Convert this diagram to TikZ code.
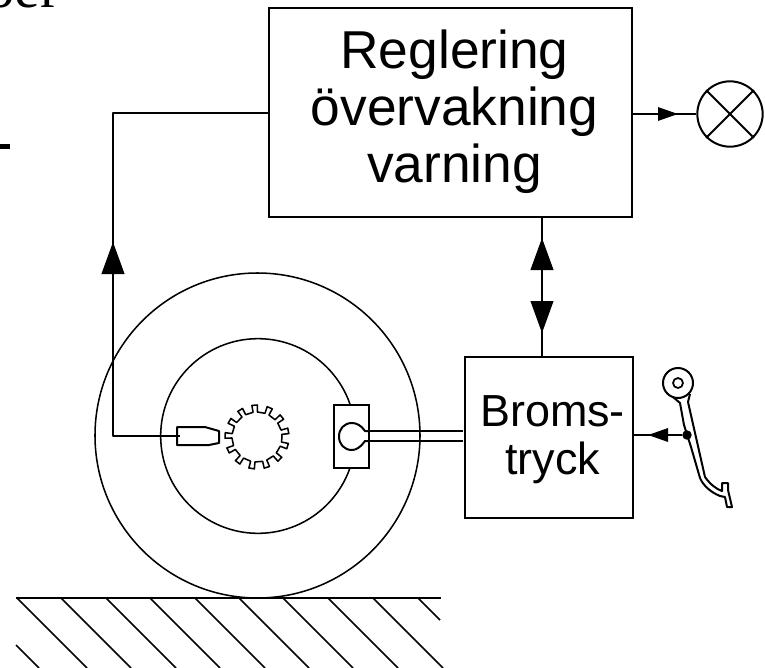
\documentclass[tikz,border=0pt]{standalone}
\usepackage{fontspec}
\setmainfont{Liberation Sans}
\newfontfamily\serifpart{Liberation Serif}
\usetikzlibrary{positioning, arrows.meta}
\tikzset{
	linje/.style={line width=1.5pt, line join=round},
	tunn/.style={line width=1.15pt, line join=round},
	pil/.style={-{Triangle[length=24pt, width=17pt]}, line width=1.5pt},
	litenpil/.style={-{Triangle[length=15pt, width=10pt]}, line width=1.5pt},
	ruta/.style={draw, line width=1.5pt, inner sep=0pt},
	etikett/.style={align=center, inner sep=0pt},
}
\begin{document}
\begin{tikzpicture}[x=0.75pt, y=-0.75pt]
	\useasboundingbox (0, 0) rectangle (765, 668);
	\clip (0, 0) rectangle (765, 668);

	% Rests of the page text
	\node[anchor=base west, inner sep=0pt, font=\serifpart\fontsize{43}{43}\selectfont] (rest) at (-14, 7) {ber};
	\fill (0, 144) rectangle (10, 149);

	% Boxes
	\node[ruta, minimum width=272pt, minimum height=157pt] (reglering) at (450.5, 112.5) {};
	\node[etikett, font=\fontsize{40}{42.75}\selectfont] (regltext) at (454.5, 112) {Reglering\\övervakning\\varning};
	\node[ruta, minimum width=126pt, minimum height=121pt] (broms) at (549, 437.5) {};
	\node[etikett, font=\fontsize{33.7}{36}\selectfont] (bromstext) at (552.5, 440) {Broms-\\tryck};

	% Lamp
	\node[draw, circle, line width=1.5pt, minimum size=49pt, inner sep=0pt] (lampa) at (730, 114) {};
	\draw[linje] (lampa.north west) -- (lampa.south east);
	\draw[linje] (lampa.north east) -- (lampa.south west);
	\coordinate (lampstart) at (reglering.east |- lampa.west);
	\coordinate (lampspets) at (678, 114);
	\draw[linje] (lampstart) -- (lampa.west);
	\draw[litenpil] (lampstart) -- (lampspets);

	% Wheel
	\node[draw, circle, tunn, minimum size=243.75pt, inner sep=0pt] (hjul) at (257.5, 435.5) {};
	\node[draw, circle, tunn, minimum size=146pt, inner sep=0pt] (nav) at (258, 436) {};

	% Ground
	\coordinate (markv) at (16, 598);
	\coordinate (markh) at (441, 598);
	\draw[linje] (markv) -- (markh);
	\foreach \x in {17, 61, 106, 150, 195, 239, 283, 328, 373}
		\draw[tunn] (\x, 598) -- (\x+70, 668);
	\draw[tunn] (418, 598) -- (440, 620);
	\draw[tunn] (16, 645) -- (39, 668);

	% Gear
	\draw[tunn] (282, 437) \foreach \i in {0,...,12} {
		-- ({257+25*cos((\i+0.42)*360/13)}, {437+25*sin((\i+0.42)*360/13)})
		-- ({257+32*cos((\i+0.42)*360/13)}, {437+32*sin((\i+0.42)*360/13)})
		-- ({257+32*cos((\i+0.78)*360/13)}, {437+32*sin((\i+0.78)*360/13)})
		-- ({257+25*cos((\i+0.78)*360/13)}, {437+25*sin((\i+0.78)*360/13)})
	} -- cycle;

	% Sensor
	\coordinate (givare) at (180, 436);
	\coordinate (horn) at (113, 436);
	\coordinate (uppe) at (113, 113);
	\coordinate (pilspets) at (113, 242);
	\draw[linje] (177, 427) -- (205, 427) -- (219, 431) -- (219, 443) -- (209, 445) -- (177, 445) -- cycle;

	% Caliper
	\node[ruta, fill=white, minimum width=26.25pt, minimum height=47.25pt] (ok) at (351.5, 436) {};
	\draw[linje] (369, 431) -- (365, 431) .. controls (361, 425) and (356, 423) .. (352, 423)
		.. controls (344, 423) and (339, 429) .. (339, 436.5)
		.. controls (339, 444) and (344, 450) .. (352, 450)
		.. controls (356, 450) and (361, 447) .. (365, 441) -- (369, 441);
	\coordinate (ledA) at (463, 431);
	\coordinate (ledB) at (463, 441);
	\draw[linje] (369, 431) -- (ledA);
	\draw[linje] (369, 441) -- (ledB);

	% Signal lines
	\draw[linje] (givare) -- (horn) -- (uppe) -- (reglering.west |- uppe);
	\draw[pil] (horn) -- (pilspets);
	\coordinate (dubbel) at (542, 285);
	\coordinate (dubbelupp) at (542, 238);
	\coordinate (dubbelner) at (542, 333);
	\draw[linje] (reglering.south -| dubbel) -- (broms.north -| dubbel);
	\draw[pil] (dubbel) -- (dubbelupp);
	\draw[pil] (dubbel) -- (dubbelner);

	% Pedal
	\node[draw, circle, line width=1.5pt, minimum size=22.5pt, inner sep=0pt] (ring) at (678, 383) {};
	\node[draw, circle, line width=1.3pt, minimum size=7.5pt, inner sep=0pt] (hal) at (678, 383) {};
	\draw[linje] (673, 397) -- (680, 403) -- (684, 425) -- (691, 447) -- (700, 478)
		.. controls (703, 485) and (710, 492) .. (720, 496) -- (725, 497) -- (727, 507)
		-- (732, 507) -- (728, 490) -- (728, 483) -- (722, 483) -- (722, 491)
		.. controls (716, 489) and (710, 484) .. (705, 477) -- (688, 402) -- (690, 394);
	\node[draw, circle, fill=black, line width=1pt, minimum size=6pt, inner sep=0pt] (led) at (687, 435) {};
	\coordinate (pedalspets) at (648, 435);
	\draw[linje] (led) -- (broms.east |- led);
	\draw[litenpil] (led) -- (pedalspets);
\end{tikzpicture}
\end{document}
